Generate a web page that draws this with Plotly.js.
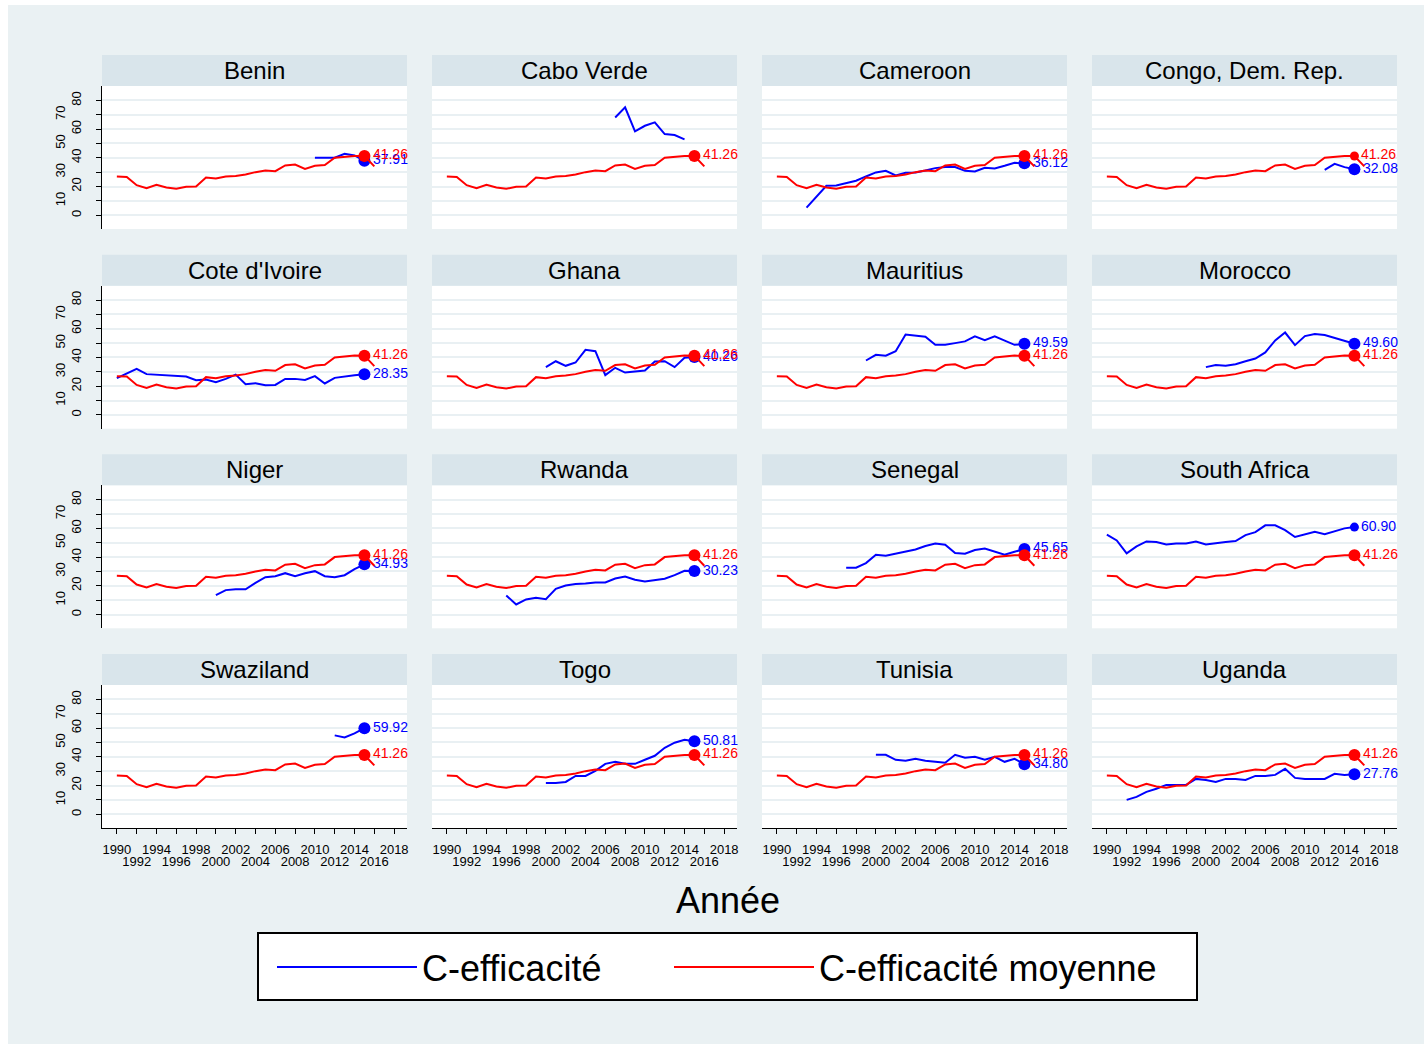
<!DOCTYPE html>
<html><head><meta charset="utf-8">
<script src="https://cdn.plot.ly/plotly-3.0.1.min.js"></script>
<style>html,body{margin:0;padding:0;background:#ffffff}#chart{width:1424px;height:1044px}</style>
</head><body><div id="chart"></div>
<script>
// ---------------- DATA ----------------
const years = [1990,1991,1992,1993,1994,1995,1996,1997,1998,1999,2000,2001,2002,2003,2004,2005,2006,2007,2008,2009,2010,2011,2012,2013,2014,2015,2016];
const avgEfficiency = [27.0,26.7,20.9,18.8,21.2,19.3,18.4,19.8,20.0,26.3,25.6,27.0,27.4,28.4,30.0,31.2,30.7,34.7,35.3,32.3,34.4,34.9,40.0,40.7,41.3,41.26,34.0];
const countries = ["Benin","Cabo Verde","Cameroon","Congo, Dem. Rep.","Cote d'Ivoire","Ghana","Mauritius","Morocco","Niger","Rwanda","Senegal","South Africa","Swaziland","Togo","Tunisia","Uganda"];
const firstYear = [2010,2007,1993,2012,1990,2000,1999,2000,2000,1996,1997,1990,2012,2000,2000,1992];
const benin = [40.0,39.8,40.0,42.8,41.6,37.91];
const caboVerde = [68.1,75.1,58.4,62.3,64.7,56.5,55.8,52.8];
const cameroon = [5.3,13.0,20.5,20.7,22.1,24.0,27.0,29.8,30.9,27.7,29.5,29.8,31.2,32.8,33.5,33.5,30.9,30.5,33.0,32.6,34.4,36.5,36.12];
const congo = [31.6,35.8,33.5,32.08];
const coteDIvoire = [25.6,28.8,32.1,28.4,27.9,27.7,27.2,26.7,24.2,24.7,22.8,25.1,28.1,21.4,22.1,20.7,20.9,25.1,25.1,24.4,27.0,21.9,25.8,27.0,27.7,28.35];
const ghana = [33.3,37.4,34.2,36.5,45.3,44.4,27.7,32.8,29.5,30.2,30.9,37.2,37.4,33.3,39.8,40.26];
const mauritius = [37.9,41.9,41.2,44.4,56.0,55.1,54.4,48.8,48.8,50.0,51.2,54.7,52.1,54.7,51.9,48.8,49.59];
const morocco = [33.3,34.7,34.2,35.3,37.4,39.3,43.5,51.9,57.4,48.6,54.9,56.3,55.6,53.5,51.6,49.60];
const niger = [13.5,17.0,17.6,17.6,22.0,26.0,26.7,28.8,26.7,28.8,30.2,26.7,26.0,27.4,31.6,34.93];
const rwanda = [13.3,7.0,10.5,11.6,10.7,17.9,20.2,21.2,21.6,22.3,22.3,25.1,26.5,24.2,23.0,24.2,24.9,27.4,30.5,30.23];
const senegal = [32.6,32.6,35.8,41.6,40.9,42.3,43.5,45.3,47.7,49.5,48.6,42.8,42.3,44.9,46.0,43.7,41.6,43.7,45.65];
const southAfrica = [55.6,51.6,42.6,47.4,50.9,50.5,48.8,49.5,49.5,50.9,48.8,49.8,50.5,51.2,55.3,57.4,62.1,62.1,58.8,54.0,55.8,57.7,56.0,58.1,60.0,60.90];
const swaziland = [54.9,53.5,56.3,59.92];
const togo = [21.8,21.8,22.5,26.7,26.7,30.2,35.1,36.5,35.1,35.1,37.9,40.7,46.3,49.8,51.9,50.81];
const tunisia = [41.4,41.4,37.9,37.2,38.6,37.2,36.5,35.8,41.4,39.3,40.0,37.9,40.0,36.5,38.6,34.80];
const uganda = [10.0,12.1,15.6,17.7,20.4,20.4,20.4,24.6,23.9,22.5,24.6,24.6,23.9,26.7,26.7,27.4,31.6,25.3,24.6,24.6,24.6,28.1,27.4,27.76];
const countrySeries = [benin,caboVerde,cameroon,congo,coteDIvoire,ghana,mauritius,morocco,niger,rwanda,senegal,southAfrica,swaziland,togo,tunisia,uganda];
const labelYear = 2015;
const xTickVals = [1990,1992,1994,1996,1998,2000,2002,2004,2006,2008,2010,2012,2014,2016,2018];
const yTickVals = [0,10,20,30,40,50,60,70,80];
const seriesNames = ["C-efficacité","C-efficacité moyenne"];
const xTitle = "Année";

// ---------------- LAYOUT ----------------
const W = 1424, H = 1044;
const FONT = "Liberation Sans, Arial, sans-serif";
const BLUE = "#0000ff", RED = "#ff0000";
const colLeft = [102,432,762,1092], panelW = 305;
const rowTop = [86,285.7,485.3,685], panelH = 143, stripH = 31;
const fx = v => v / W, fy = v => 1 - v / H;
const smallMarker = {"Congo, Dem. Rep.": "red", "South Africa": "blue"};
const XR = [1988.5, 2019.3], YR = [-9.6, 90];

const legendStyle = (left) => ({
  orientation: "h", x: fx(left), xanchor: "left", y: fy(967), yanchor: "middle",
  bgcolor: "rgba(0,0,0,0)", borderwidth: 0,
  font: {size: 36, family: FONT, color: "#000"},
  itemwidth: 140, itemclick: false, itemdoubleclick: false
});

const traces = [];
const layout = {
  width: W, height: H,
  margin: {l:0, r:0, t:0, b:0},
  paper_bgcolor: "#eaf1f3",
  plot_bgcolor: "#ffffff",
  font: {family: FONT, color: "#000"},
  showlegend: true,
  legend: legendStyle(272),
  legend2: legendStyle(669),
  shapes: [
    {type:"rect", xref:"paper", yref:"paper", x0:0, x1:fx(8), y0:0, y1:1, fillcolor:"#ffffff", line:{width:0}, layer:"below"},
    {type:"rect", xref:"paper", yref:"paper", x0:0, x1:1, y0:fy(5), y1:1, fillcolor:"#ffffff", line:{width:0}, layer:"below"},
    {type:"rect", xref:"paper", yref:"paper", x0:fx(258), x1:fx(1197), y0:fy(1000), y1:fy(933), fillcolor:"#ffffff", line:{color:"#000000", width:2}, layer:"below"}
  ],
  annotations: [
    {text: xTitle, xref:"paper", yref:"paper", x: fx(728), y: fy(900), xanchor:"center", yanchor:"middle", showarrow:false, font:{size:36, family:FONT, color:"#000"}}
  ]
};

const evenX = xTickVals.filter((v, i) => i % 2 === 0);
const oddX = xTickVals.filter((v, i) => i % 2 === 1);
const evenY = yTickVals.filter(v => v % 20 === 0);
const oddY = yTickVals.filter(v => v % 20 !== 0);
let extra = 17;
const tickFont = {size: 13, family: FONT, color: "#000"};

countries.forEach((name, i) => {
  const r = Math.floor(i / 4), c = i % 4, k = i + 1;
  const sfx = k === 1 ? "" : String(k);
  const xa = "x" + sfx, ya = "y" + sfx;
  const L = colLeft[c], T = rowTop[r];
  const bottomRow = r === 3, firstCol = c === 0;

  layout["xaxis" + sfx] = {
    domain: [fx(L), fx(L + panelW)], anchor: ya, range: XR,
    showgrid: false, zeroline: false,
    showline: bottomRow, linecolor: "#000", linewidth: 1,
    ticks: bottomRow ? "outside" : "", ticklen: 5, tickcolor: "#000",
    tickvals: xTickVals, showticklabels: false, fixedrange: true
  };
  layout["yaxis" + sfx] = {
    domain: [fy(T + panelH), fy(T)], anchor: xa, range: YR,
    showgrid: true, gridcolor: "#e9f0f3", gridwidth: 2, zeroline: false,
    showline: firstCol, linecolor: "#000", linewidth: 1,
    ticks: firstCol ? "outside" : "", ticklen: 5, tickcolor: "#000",
    tickvals: yTickVals, showticklabels: false, fixedrange: true
  };
  if (bottomRow) {
    [[evenX, 839.5], [oddX, 852]].forEach(([vals, pos]) => {
      const id = extra++;
      layout["xaxis" + id] = {overlaying: xa, anchor: "free", position: fy(pos), range: XR,
        showgrid: false, zeroline: false, showline: false, ticks: "",
        tickvals: vals, ticktext: vals.map(String), tickangle: 0, tickfont: tickFont, fixedrange: true};
      traces.push({x: [null], y: [null], xaxis: "x" + id, yaxis: ya, mode: "lines", showlegend: false, hoverinfo: "skip"});
    });
  }
  if (firstCol) {
    [[evenY, 84], [oddY, 68]].forEach(([vals, pos]) => {
      const id = extra++;
      layout["yaxis" + id] = {overlaying: ya, anchor: "free", position: fx(pos), side: "left", range: YR,
        showgrid: false, zeroline: false, showline: false, ticks: "",
        tickvals: vals, ticktext: vals.map(String), tickangle: -90, tickfont: tickFont, fixedrange: true};
      traces.push({x: [null], y: [null], xaxis: xa, yaxis: "y" + id, mode: "lines", showlegend: false, hoverinfo: "skip"});
    });
  }

  // strip header
  layout.shapes.push({type:"rect", xref:"paper", yref:"paper", x0: fx(L), x1: fx(L + panelW), y0: fy(T), y1: fy(T - stripH),
    fillcolor: "#d9e5eb", line: {width: 0}, layer: "below"});
  layout.annotations.push({text: name, xref:"paper", yref:"paper", x: fx(L + panelW / 2), y: fy(T - stripH / 2),
    xanchor:"center", yanchor:"middle", showarrow:false, font:{size:24, family:FONT, color:"#000"}});

  // blue series
  const vals = countrySeries[i];
  const s = years.indexOf(firstYear[i]);
  const bx = years.slice(s, s + vals.length);
  traces.push({x: bx, y: vals, xaxis: xa, yaxis: ya, mode: "lines", name: seriesNames[0],
    legend: "legend", showlegend: i === 0, line: {color: BLUE, width: 2}, hoverinfo: "x+y"});
  const li = bx.indexOf(labelYear);
  if (li >= 0) {
    traces.push({x: [bx[li]], y: [vals[li]], xaxis: xa, yaxis: ya, mode: "markers+text", showlegend: false,
      marker: {color: BLUE, size: smallMarker[name] === "blue" ? 9 : 12},
      text: [vals[li].toFixed(2)], textposition: "middle right", cliponaxis: false,
      textfont: {color: BLUE, size: 14, family: FONT}, hoverinfo: "skip"});
  }
  // red average series
  traces.push({x: years, y: avgEfficiency, xaxis: xa, yaxis: ya, mode: "lines", name: seriesNames[1],
    legend: "legend2", showlegend: i === 0, line: {color: RED, width: 2}, hoverinfo: "x+y"});
  const ri = years.indexOf(labelYear);
  traces.push({x: [years[ri]], y: [avgEfficiency[ri]], xaxis: xa, yaxis: ya, mode: "markers+text", showlegend: false,
    marker: {color: RED, size: smallMarker[name] === "red" ? 9 : 12},
    text: [avgEfficiency[ri].toFixed(2)], textposition: "middle right", cliponaxis: false,
    textfont: {color: RED, size: 14, family: FONT}, hoverinfo: "skip"});
});

Plotly.newPlot("chart", traces, layout, {displayModeBar: false, staticPlot: true});
</script>
</body></html>
